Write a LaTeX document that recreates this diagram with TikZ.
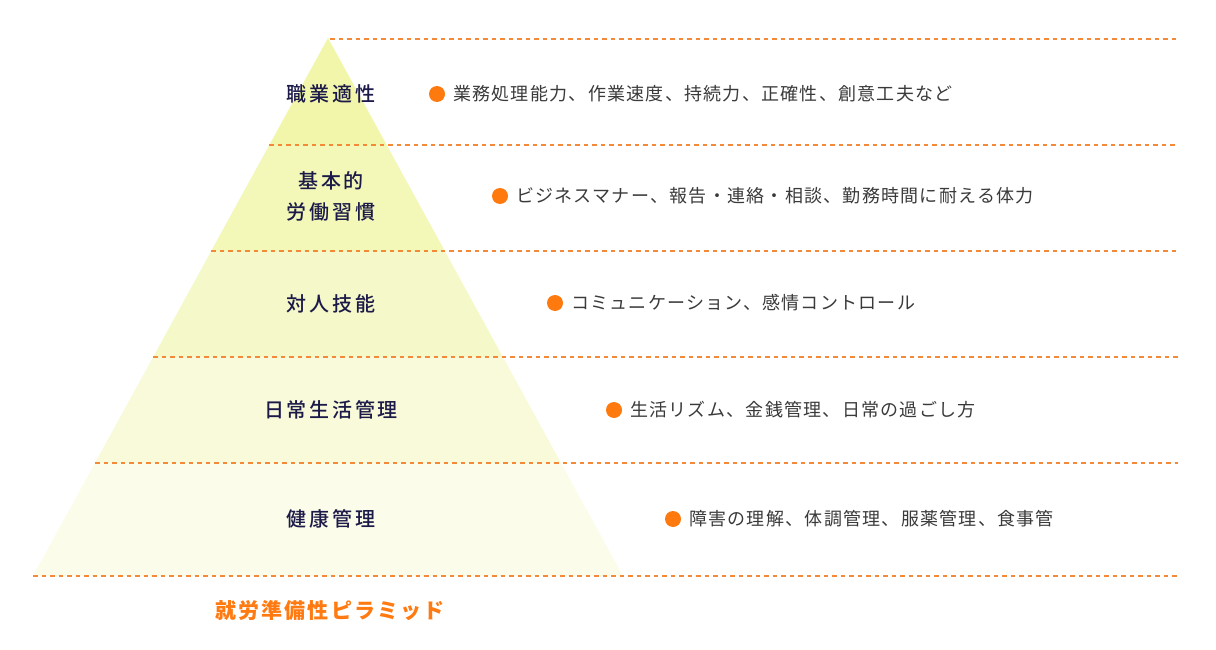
\documentclass[tikz,border=0pt]{standalone}
\usepackage{fontspec}
\newfontfamily\jpdesc[LetterSpace=7]{Noto Sans CJK JP}
\newfontfamily\jplab[LetterSpace=14]{Noto Sans CJK JP Medium}
\newfontfamily\jptitle[LetterSpace=10]{Noto Sans CJK JP}
\definecolor{bandA}{HTML}{F2F6AA}
\definecolor{bandB}{HTML}{F3F7B8}
\definecolor{bandC}{HTML}{F5F9C9}
\definecolor{bandD}{HTML}{F8FAD9}
\definecolor{bandE}{HTML}{FBFCE9}
\definecolor{dashor}{HTML}{F28A3A}
\definecolor{bulor}{HTML}{FF7A0E}
\definecolor{labnavy}{HTML}{1C1A48}
\definecolor{descgray}{HTML}{3A3A3A}
\definecolor{titleor}{HTML}{FF7A10}
\tikzset{
  sepline/.style={draw=dashor, line width=1.3pt, dash pattern=on 4.5pt off 4pt},
  lab/.style={font=\jplab\fontsize{20}{31}\selectfont, text=labnavy, align=center, inner sep=0pt},
  desc/.style={font=\jpdesc\fontsize{18}{20}\selectfont, text=descgray, anchor=west, inner sep=0pt},
  bul/.style={circle, fill=bulor, minimum size=16pt, inner sep=0pt},
  ttl/.style={font=\jptitle\fontsize{21}{24}\selectfont\bfseries, text=titleor, inner sep=0pt}
}
\begin{document}
\begin{tikzpicture}[x=1pt,y=-1pt]
\useasboundingbox (0,0) rectangle (1216,650);
% bands
\fill[bandA] (328,38) -- (386.7,145) -- (269.3,145) -- cycle;
\fill[bandB] (269.3,145) -- (386.7,145) -- (444.8,251) -- (211.2,251) -- cycle;
\fill[bandC] (211.2,251) -- (444.8,251) -- (502.9,357) -- (153.1,357) -- cycle;
\fill[bandD] (153.1,357) -- (502.9,357) -- (561.0,463) -- (95.0,463) -- cycle;
\fill[bandE] (95.0,463) -- (561.0,463) -- (623,576) -- (33,576) -- cycle;
% dashed separators
\coordinate (e0) at (1178,39);
\coordinate (e1) at (1178,145);
\coordinate (e2) at (1178,251);
\coordinate (e3) at (1178,357);
\coordinate (e4) at (1178,463);
\coordinate (e5) at (1178,576);
\coordinate (s0) at (330,39);
\coordinate (s1) at (269.3,145);
\coordinate (s2) at (211.2,251);
\coordinate (s3) at (153.1,357);
\coordinate (s4) at (95.0,463);
\coordinate (s5) at (33,576);
\foreach \i in {0,...,5} \draw[sepline] (s\i) -- (e\i);
% labels
\node[lab] (l1) at (331,94) {職業適性};
\node[lab] (l2) at (331,196) {基本的\\労働習慣};
\node[lab] (l3) at (331,304) {対人技能};
\node[lab] (l4) at (331,410) {日常生活管理};
\node[lab] (l5) at (331,519) {健康管理};
% bullets and descriptions
\node[bul] (b1) at (437,94) {};
\node[desc] (d1) at (453,94) {業務処理能力、作業速度、持続力、正確性、創意工夫など};
\node[bul] (b2) at (500,196) {};
\node[desc] (d2) at (516,196) {ビジネスマナー、報告・連絡・相談、勤務時間に耐える体力};
\node[bul] (b3) at (555,303) {};
\node[desc] (d3) at (571,303) {コミュニケーション、感情コントロール};
\node[bul] (b4) at (614,410) {};
\node[desc] (d4) at (630,410) {生活リズム、金銭管理、日常の過ごし方};
\node[bul] (b5) at (673,519) {};
\node[desc] (d5) at (689,519) {障害の理解、体調管理、服薬管理、食事管};
% title
\node[ttl] (t) at (330,611) {就労準備性ピラミッド};
\end{tikzpicture}
\end{document}
